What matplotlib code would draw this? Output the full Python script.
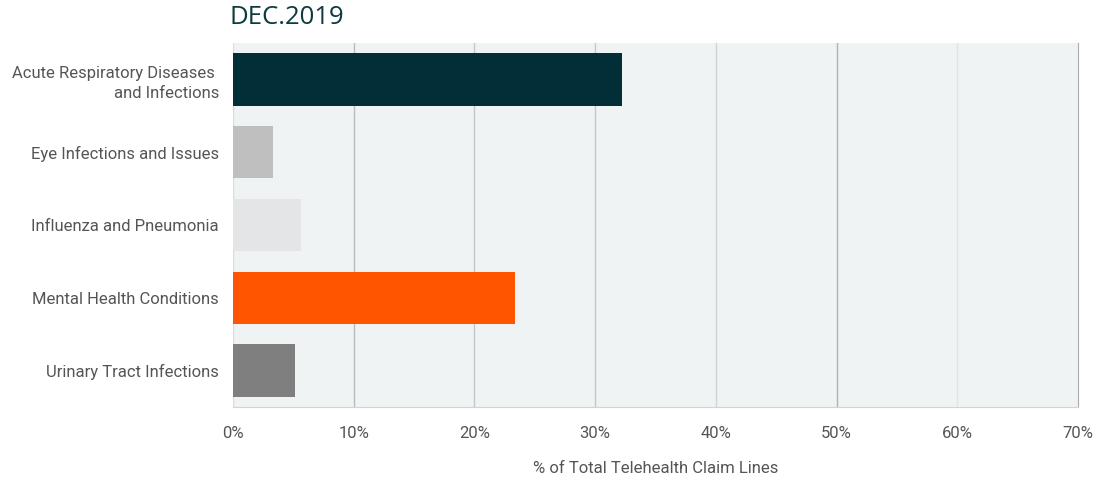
import matplotlib.pyplot as plt
from matplotlib.ticker import PercentFormatter

# data
categories = [
    'Acute Respiratory Diseases \nand Infections',
    'Eye Infections and Issues',
    'Influenza and Pneumonia',
    'Mental Health Conditions',
    'Urinary Tract Infections',
]
values = [32.2, 3.3, 5.6, 23.4, 5.1]
bar_colors = ['#022f37', '#bfbfbf', '#e4e5e6', '#ff5500', '#7f7f7f']
xticks = [0, 10, 20, 30, 40, 50, 60, 70]

plt.rcParams['font.family'] = ['Roboto', 'DejaVu Sans']

fig = plt.figure(figsize=(11.17, 4.86), dpi=100)
ax = fig.add_axes([233 / 1117, 1 - 407 / 486, (1078 - 233) / 1117, (407 - 43) / 486])
ax.set_facecolor('#eff3f4')

ypos = list(range(len(categories)))
ax.barh(ypos, values, height=0.72, color=bar_colors, zorder=3)
ax.set_ylim(len(categories) - 0.5, -0.5)
ax.set_xlim(0, 70)
ax.set_yticks(ypos)
ax.set_yticklabels(categories, fontsize=12, color='#555555', linespacing=1.45)
ax.set_xticks(xticks)
ax.xaxis.set_major_formatter(PercentFormatter(decimals=0))
ax.tick_params(axis='x', labelsize=12, colors='#555555', length=0, pad=14)
ax.tick_params(axis='y', length=0, pad=10)

grid_colors = {10: '#b8bcbe', 20: '#c4c8ca', 30: '#c4c8ca', 40: '#d0d4d6', 50: '#b0b3b5', 60: '#e0e4e6'}
for x, c in grid_colors.items():
    ax.axvline(x, color=c, linewidth=1, zorder=1)

for s in ['top', 'left']:
    ax.spines[s].set_visible(False)
ax.spines['right'].set_color('#a8abad')
ax.spines['bottom'].set_color('#d0d4d6')
ax.axvline(0, color='#d8dcde', linewidth=1, zorder=2)

ax.set_xlabel('% of Total Telehealth Claim Lines', fontsize=12, color='#555555', labelpad=14)
fig.text(229 / 1117, 1 - 18 / 486, 'DEC.2019', fontsize=18.5, color='#0e3a40',
         va='center', ha='left', family='Open Sans')

fig.savefig('out.png', dpi=100)
